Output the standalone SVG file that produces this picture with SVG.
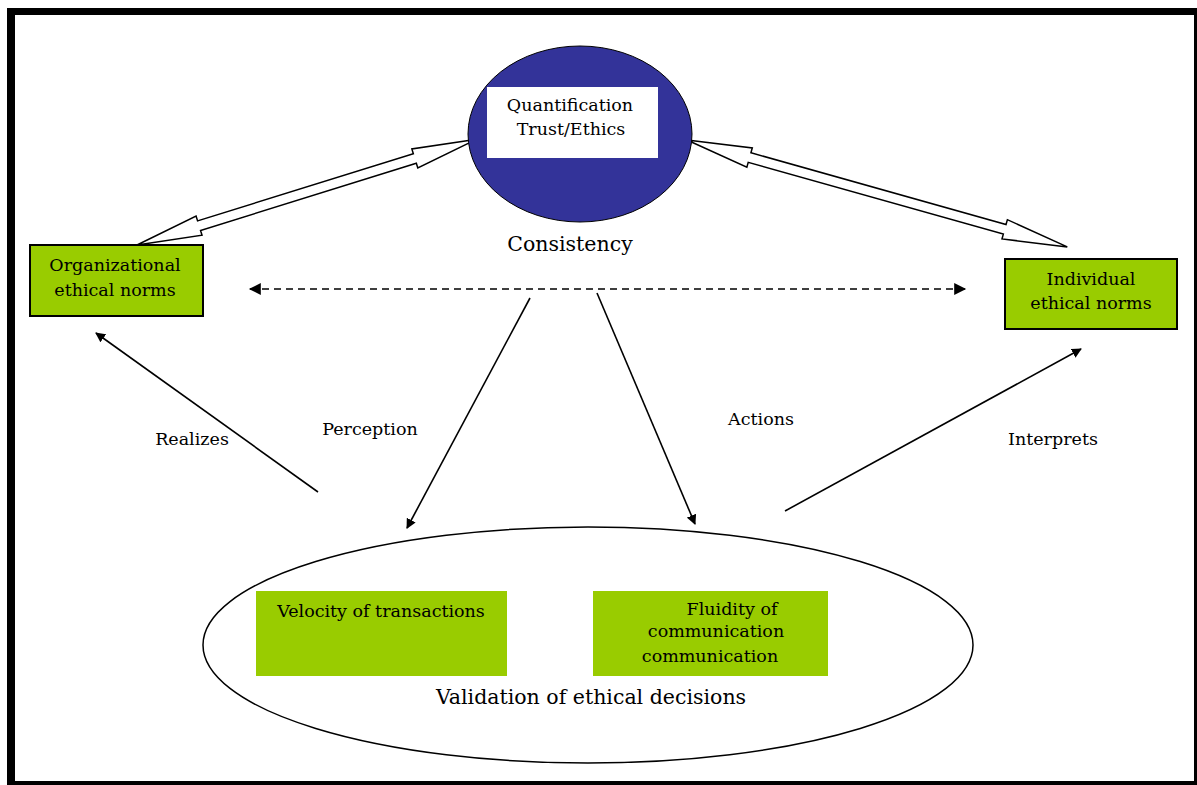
<svg xmlns="http://www.w3.org/2000/svg" width="1197" height="785" viewBox="0 0 1197 785">
<style>
text{font-family:"DejaVu Serif","Liberation Serif",serif;fill:#000}
.box{fill:#99CC00}
.sbox{fill:#99CC00;stroke:#000;stroke-width:2}
.blk{fill:#fff;stroke:#000;stroke-width:1.5;stroke-linejoin:miter}
.ln{stroke:#000;stroke-width:1.6;fill:none}
.lbl{font-size:17.5px}
.t{font-size:17.5px}
.big{font-size:20.5px}
</style>
<defs>
<marker id="ah" viewBox="0 0 10 10" refX="9" refY="5" markerWidth="10" markerHeight="10" markerUnits="userSpaceOnUse" orient="auto">
<path d="M0,0 L10,5 L0,10 Z" fill="#000"/>
</marker>
<marker id="ad" viewBox="0 0 10 10" refX="9" refY="5" markerWidth="14" markerHeight="12" markerUnits="userSpaceOnUse" orient="auto-start-reverse">
<path d="M0,0 L10,5 L0,10 Z" fill="#000"/>
</marker>
</defs>
<rect x="0" y="0" width="1197" height="785" fill="#fff"/>
<g id="frame">
<rect x="7" y="8" width="1190" height="7" fill="#000"/>
<rect x="7" y="8" width="8" height="777" fill="#000"/>
<rect x="1194" y="8" width="3" height="777" fill="#000"/>
<rect x="7" y="781" width="1190" height="4" fill="#000"/>
</g>
<g id="connectors">
<polygon class="blk" transform="translate(137,245) rotate(-17.3)" points="0,0 65,-10 65,-5 291,-5 291,-10 356,0 291,10 291,5 65,5 65,10"/>
<polygon class="blk" transform="translate(687,140) rotate(15.7)" points="0,0 65,-10 65,-5 330,-5 330,-10 395,0 330,10 330,5 65,5 65,10"/>
<line class="ln" x1="250" y1="289" x2="965" y2="289" stroke-dasharray="7,5" marker-start="url(#ad)" marker-end="url(#ad)"/>
<line class="ln" x1="530" y1="298" x2="407" y2="528" marker-end="url(#ah)"/>
<line class="ln" x1="597" y1="293" x2="695" y2="524" marker-end="url(#ah)"/>
<line class="ln" x1="318" y1="492" x2="96" y2="333" marker-end="url(#ah)"/>
<line class="ln" x1="785" y1="511" x2="1081" y2="349" marker-end="url(#ah)"/>
<text class="lbl" x="192" y="445" text-anchor="middle">Realizes</text>
<text class="lbl" x="370" y="435" text-anchor="middle">Perception</text>
<text class="lbl" x="761" y="425" text-anchor="middle">Actions</text>
<text class="lbl" x="1053" y="445" text-anchor="middle">Interprets</text>
</g>
<g id="quantification">
<ellipse cx="580" cy="134" rx="112" ry="88" fill="#333399" stroke="#000" stroke-width="1"/>
<rect x="487" y="87" width="171" height="71" fill="#fff"/>
<text class="t" x="570" y="111" text-anchor="middle">Quantification</text>
<text class="t" x="571" y="135" text-anchor="middle">Trust/Ethics</text>
<text class="big" x="570" y="251" text-anchor="middle">Consistency</text>
</g>
<g id="org-norms">
<rect class="sbox" x="30" y="245" width="173" height="71"/>
<text class="t" x="115" y="271" text-anchor="middle">Organizational</text>
<text class="t" x="115" y="296" text-anchor="middle">ethical norms</text>
</g>
<g id="ind-norms">
<rect class="sbox" x="1005" y="259" width="172" height="70"/>
<text class="t" x="1091" y="285" text-anchor="middle">Individual</text>
<text class="t" x="1091" y="309" text-anchor="middle">ethical norms</text>
</g>
<g id="validation">
<ellipse cx="588" cy="645" rx="385" ry="118" fill="#fff" stroke="#000" stroke-width="1.5"/>
<text class="big" x="591" y="704" text-anchor="middle">Validation of ethical decisions</text>
</g>
<g id="velocity">
<rect class="box" x="256" y="591" width="251" height="85"/>
<text class="t" x="381" y="617" text-anchor="middle">Velocity of transactions</text>
</g>
<g id="fluidity">
<rect class="box" x="593" y="591" width="235" height="85"/>
<text class="t" x="732" y="615" text-anchor="middle">Fluidity of</text>
<text class="t" x="716" y="637" text-anchor="middle">communication</text>
<text class="t" x="710" y="662" text-anchor="middle">communication</text>
</g>
</svg>
